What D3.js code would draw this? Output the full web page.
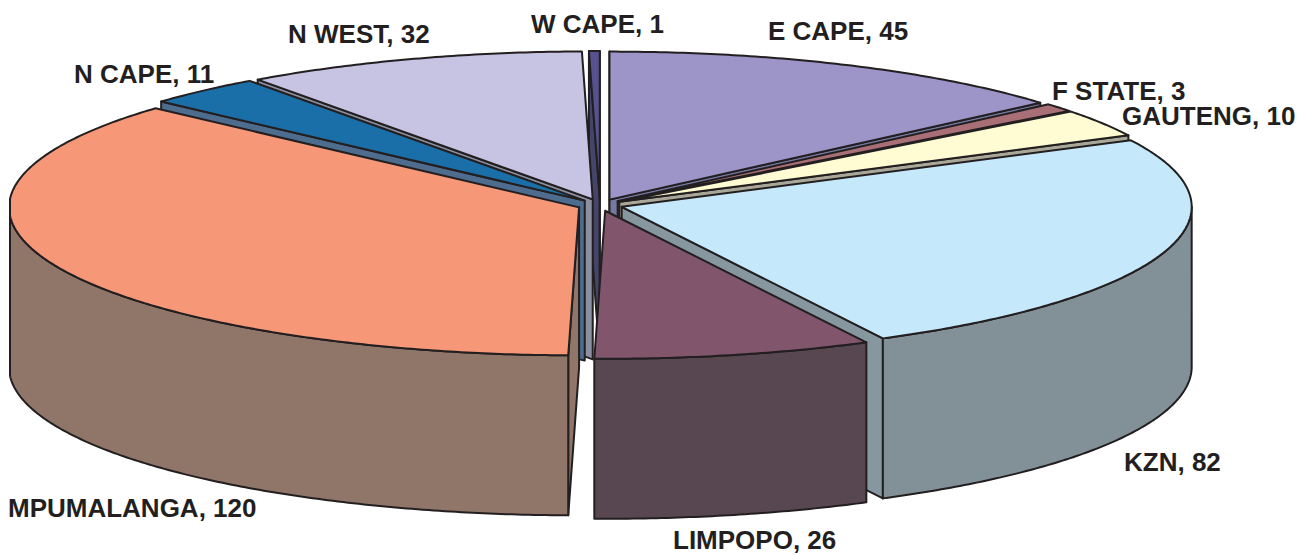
<!DOCTYPE html>
<html>
<head>
<meta charset="utf-8">
<script src="https://cdn.jsdelivr.net/npm/d3@7/dist/d3.min.js"></script>
<style>
  html, body { margin: 0; padding: 0; background: #fff; }
  svg { display: block; }
  text { font-family: "Liberation Sans", Arial, sans-serif; font-weight: 700; font-size: 26px; fill: #231f20; }
</style>
</head>
<body>
<svg id="chart" width="1306" height="555"></svg>
<script>
// Provinces and their counts, clockwise from twelve o'clock
const provinces = ["E CAPE", "F STATE", "GAUTENG", "KZN", "LIMPOPO", "MPUMALANGA", "N CAPE", "N WEST", "W CAPE"];
const counts = [45, 3, 10, 82, 26, 120, 11, 32, 1];

// Fill colours for each slice: top surface, rim wall, cut faces
const topColors = ["#9d94c8", "#a87076", "#fffbd3", "#c5e9fb", "#81566c", "#f69778", "#1b6fa8", "#c6c3e3", "#55528f"];
const wallColors = ["#6f6a8f", "#785054", "#b5b296", "#829097", "#584750", "#8f7669", "#134f78", "#8c8aa2", "#3c3a66"];
const cutColors = ["#7578a0", "#785054", "#a9a898", "#86979f", "#584750", "#8f7669", "#4d6c8e", "#8b8fa0", "#45456a"];

// Label anchors, one per province
const labelX = [768, 1052, 1122, 1124, 673, 8, 74, 288, 531];
const labelY = [40, 100, 125, 471, 549, 517, 83, 43, 33];

// Pie geometry on the page
const centerX = 600, centerY = 205;
const radiusX = 570, radiusY = 148;
const depth = 160;
const explode = 0.04;
const leftLimit = 10;
const inkColor = "#231f20";

const svg = d3.select("#chart");

const arcs = d3.pie().sort(null).startAngle(0).endAngle(2 * Math.PI)(counts);

// Horizontal and vertical scales map the unit circle onto the tilted disc
const sx = d3.scaleLinear().domain([-1, 1]).range([-radiusX, radiusX]);
const sy = d3.scaleLinear().domain([-1, 1]).range([-radiusY, radiusY]);

const line = d3.line();

arcs.forEach((a, i) => {
  const mid = (a.startAngle + a.endAngle) / 2;
  a.index = i;
  a.mid = mid;
  a.apex = [centerX + sx(explode * Math.sin(mid)), centerY + sy(-explode * Math.cos(mid))];
});

// The disc is flattened where it meets the left margin, giving a short straight edge there
const rim = (a, angle) => [
  Math.max(leftLimit, a.apex[0] + sx(Math.sin(angle))),
  a.apex[1] + sy(-Math.cos(angle))
];
const down = p => [p[0], p[1] + depth];

function rimPoints(a, from, to) {
  const steps = Math.max(2, Math.ceil((to - from) / 0.01));
  return d3.range(steps + 1).map(k => rim(a, from + (to - from) * k / steps));
}

// Paint from the back of the disc to the front so nearer slices cover farther ones
const ordered = arcs.slice().sort((p, q) => d3.descending(Math.cos(p.mid), Math.cos(q.mid)));

const slices = svg.selectAll("g.slice").data(ordered).join("g").attr("class", "slice")
  .attr("stroke", inkColor).attr("stroke-width", 2).attr("stroke-linejoin", "round");

slices.each(function (a) {
  const g = d3.select(this);
  const i = a.index;

  // A cut face shows only where it turns toward the viewer
  const cuts = [];
  if (Math.sin(a.startAngle) < 0 || a.startAngle === 0) cuts.push(a.startAngle);
  if (Math.sin(a.endAngle) > 0) cuts.push(a.endAngle);
  cuts.forEach(angle => {
    const r = rim(a, angle);
    g.append("path")
      .attr("fill", cutColors[i])
      .attr("d", line([a.apex, r, down(r), down(a.apex)]) + "Z");
  });

  // Outer wall on the part of the rim that faces front
  const from = Math.max(a.startAngle, Math.PI / 2);
  const to = Math.min(a.endAngle, 3 * Math.PI / 2);
  if (to > from) {
    const edge = rimPoints(a, from, to);
    g.append("path")
      .attr("fill", wallColors[i])
      .attr("d", line(edge.concat(edge.map(down).reverse())) + "Z");
  }

  // Top surface
  g.append("path")
    .attr("fill", topColors[i])
    .attr("d", line([a.apex].concat(rimPoints(a, a.startAngle, a.endAngle))) + "Z");
});

svg.selectAll("text.label").data(arcs).join("text")
  .attr("class", "label")
  .attr("x", (d, i) => labelX[i])
  .attr("y", (d, i) => labelY[i])
  .text((d, i) => `${provinces[i]}, ${counts[i]}`);
</script>
</body>
</html>
